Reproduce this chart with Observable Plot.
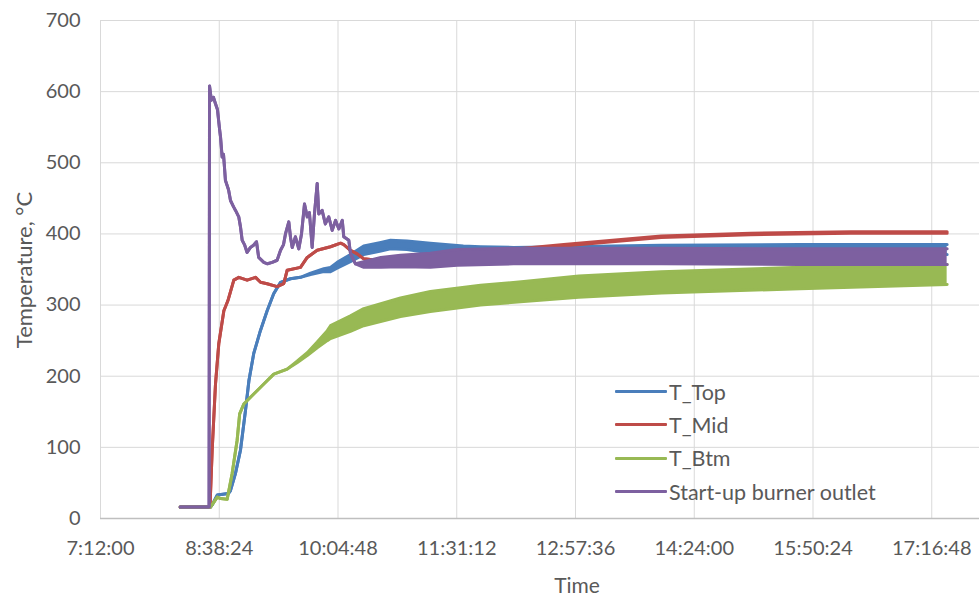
<!DOCTYPE html>
<html>
<head>
<meta charset="utf-8">
<script src="https://cdn.jsdelivr.net/npm/d3@7"></script>
<script src="https://cdn.jsdelivr.net/npm/@observablehq/plot@0.6"></script>
<style>
  html, body { margin: 0; padding: 0; background: #fff; overflow: hidden; width: 979px; height: 596px; }
  #wrap { position: relative; width: 1052px; height: 596px; font-family: Lato, "Open Sans", sans-serif; color: #595959; }
  #legend { position: absolute; left: 615px; top: 375px; font-size: 21.5px; }
  .row { display: flex; align-items: center; height: 33.3px; white-space: nowrap; }
  .sw { width: 52px; height: 3px; margin-right: 2px; border-radius: 1px; }
  #ylab { position: absolute; left: 23px; top: 270px; font-size: 22px; white-space: nowrap; transform: translate(-50%, -50%) rotate(-90deg); }
  #xlab { position: absolute; left: 577px; top: 584px; font-size: 21px; white-space: nowrap; transform: translate(-50%, -50%); }
</style>
</head>
<body>
<div id="wrap"><div id="legend"></div><div id="ylab"></div><div id="xlab"></div></div>
<script>
// ---------------- data ----------------
const seriesNames = ["T_Top", "T_Mid", "T_Btm", "Start-up burner outlet"];
const seriesColors = ["#4a7ebb", "#be4b48", "#98b954", "#7d60a0"];
const xTitle = "Time";
const yTitle = "Temperature, °C";

const xTickLabels = ["7:12:00", "8:38:24", "10:04:48", "11:31:12", "12:57:36", "14:24:00", "15:50:24", "17:16:48"];
const xDomainLabels = ["7:12:00", "18:43:12"];
const yTicks = [0, 100, 200, 300, 400, 500, 600, 700];

// T_Top: time, temperature (°C), half-width of the fast oscillation (°C)
const topTime = ["8:10:00","8:32:00","8:33:30","8:37:00","8:45:00","8:46:30","8:50:10","8:53:50","8:57:30","9:00:00","9:03:30","9:08:20","9:13:15","9:18:00","9:23:00","9:30:10","9:37:30","9:44:50","9:54:30","9:59:20","10:04:10","10:13:50","10:23:30","10:36:00","10:43:00","10:55:00","11:12:00","11:36:00","11:48:30","12:12:30","12:49:00","14:00:00","15:41:00","17:28:00"];
const topTemp = [16,16,20,33,35,39,63,96,152,194,232,264,292,316,332,337,339,344,349,350,356,366,377,382,385,384,380,375,374,373,375,377,378,378];
const topSwing = [0,0,0,0,0,0,0,0,0,0,0,0,0,0,0,0,0,1,2,3,4,5,6,6,6,6,7,8,8,8,7,7,7,7];

// T_Mid
const midTime = ["8:10:00","8:31:40","8:33:15","8:35:40","8:38:05","8:41:45","8:44:40","8:49:00","8:52:40","8:58:40","9:04:50","9:08:25","9:13:15","9:20:30","9:25:20","9:27:50","9:37:30","9:42:25","9:49:40","9:59:20","10:06:40","10:09:00","10:13:50","10:18:45","10:23:30","10:33:20","10:50:15","11:12:00","11:31:30","12:10:20","12:49:00","14:00:00","15:05:00","16:18:00","17:28:00"];
const midTemp = [16,16,96,189,246,292,306,335,339,335,339,332,330,326,330,349,353,367,377,382,387,385,377,372,365,363,366,369,372,377,384,396,400,402,402];
const midSwing = [0,0,0,0,0,0,0,0,0,0,0,0,0,0,0,0,0,0,0,0,0,0,0,0,0,0,0,0,1,1,1,1,1,1,1];

// T_Btm
const btmTime = ["8:10:00","8:32:00","8:37:00","8:39:20","8:44:10","8:47:45","8:51:25","8:53:15","8:56:15","9:03:30","9:10:50","9:18:05","9:27:50","9:35:00","9:42:25","9:49:40","9:57:00","9:59:20","10:13:50","10:23:30","10:50:15","11:12:00","11:48:30","12:20:00","13:00:00","14:00:00","15:41:00","17:28:00"];
const btmTemp = [16,16,30,28,27,63,110,147,161,175,189,203,210,220,231,244,257,262,274,283,297,305,314,319,326,332,338,343];
const btmSwing = [0,0,0,0,0,0,0,0,0,0,0,0,0,1,2,4,7,9,11,12,13,14,14,14,15,15,15,14];

// Start-up burner outlet
const burTime = ["8:10:00","8:31:00","8:31:20","8:32:40","8:34:10","8:35:40","8:37:05","8:38:35","8:39:20","8:40:30","8:41:30","8:42:55","8:45:10","8:46:35","8:48:50","8:50:15","8:52:35","8:53:50","8:55:05","8:56:45","8:58:40","9:01:05","9:03:20","9:05:30","9:07:05","9:10:50","9:13:30","9:16:55","9:20:30","9:23:00","9:25:10","9:26:35","9:29:00","9:30:15","9:31:30","9:33:50","9:36:15","9:38:15","9:40:25","9:42:25","9:44:00","9:46:00","9:47:40","9:49:40","9:50:50","9:53:15","9:55:35","9:58:05","10:00:35","10:03:00","10:05:25","10:07:55","10:09:00","10:12:40","10:13:55","10:17:30","10:23:35","10:36:00","10:50:15","11:12:00","11:31:30","12:12:30","12:49:00","14:00:00","15:41:00","17:28:00"];
const burTemp = [16,16,608,588,592,583,575,548,536,508,512,475,462,447,438,433,424,410,391,385,374,381,384,389,367,360,358,360,363,377,385,400,417,395,381,396,379,400,442,424,430,381,428,471,428,433,414,424,405,419,407,419,396,391,372,358,357,360,362,363,367,369,369,369,368,368];
const burSwing = [0,0,0,0,0,0,0,0,0,0,0,0,0,0,0,0,0,0,0,0,0,0,0,0,0,0,0,0,0,0,0,0,0,0,0,0,0,0,0,0,0,0,0,0,0,0,0,0,0,0,0,0,0,0,0,0,4,7,8,10,11,11,11,11,11,11];

// ---------------- build ----------------
function parseT(s) {
  const [h, m, sec = 0] = s.split(":").map(Number);
  return new Date(Date.UTC(2000, 0, 1, h, m, sec));
}
const seriesData = [
  [topTime, topTemp, topSwing],
  [midTime, midTemp, midSwing],
  [btmTime, btmTemp, btmSwing],
  [burTime, burTemp, burSwing]
];
const rows = [];
seriesData.forEach(([ts, vs, ss], k) => {
  ts.forEach((t, i) => rows.push({
    series: seriesNames[k], time: parseT(t), temp: vs[i],
    lo: vs[i] - ss[i], hi: vs[i] + ss[i]
  }));
});
const xTicks = xTickLabels.map(parseT);
const fmt = d3.utcFormat("%-H:%M:%S");
const color = {domain: seriesNames, range: seriesColors};

const marks = [
  Plot.gridX(xTicks, {stroke: "#d9d9d9", strokeOpacity: 1, strokeWidth: 1}),
  Plot.gridY(yTicks, {stroke: "#d9d9d9", strokeOpacity: 1, strokeWidth: 1}),
  Plot.ruleY([0], {stroke: "#bfbfbf", strokeWidth: 1.3}),
  Plot.axisX(xTicks, {tickSize: 0, tickPadding: 22, tickFormat: fmt, label: null, fill: "#595959"}),
  Plot.axisY(yTicks, {tickSize: 0, tickPadding: 20, label: null, fill: "#595959"})
];
seriesNames.forEach(name => {
  const d = rows.filter(r => r.series === name);
  marks.push(Plot.areaY(d, {x: "time", y1: "lo", y2: "hi", fill: "series", fillOpacity: 1}));
  marks.push(Plot.lineY(d, {x: "time", y: "lo", stroke: "series", strokeWidth: 3, strokeLinejoin: "round", strokeLinecap: "round"}));
  marks.push(Plot.lineY(d, {x: "time", y: "hi", stroke: "series", strokeWidth: 3, strokeLinejoin: "round", strokeLinecap: "round"}));
});

const chart = Plot.plot({
  width: 1052,
  height: 596,
  marginLeft: 100,
  marginRight: 2,
  marginTop: 20,
  marginBottom: 78,
  style: {fontFamily: "Lato, 'Open Sans', sans-serif", fontSize: "20px", color: "#595959", background: "white"},
  x: {type: "utc", domain: xDomainLabels.map(parseT)},
  y: {domain: [0, 700]},
  color,
  marks
});
document.getElementById("wrap").prepend(chart);

document.getElementById("xlab").textContent = xTitle;
document.getElementById("ylab").textContent = yTitle;

// legend (HTML overlay inside the plot area, like the original)
const legend = document.getElementById("legend");
seriesNames.forEach((name, i) => {
  const row = document.createElement("div");
  row.className = "row";
  const sw = document.createElement("div");
  sw.className = "sw";
  sw.style.background = seriesColors[i];
  const tx = document.createElement("span");
  tx.textContent = name;
  row.append(sw, tx);
  legend.append(row);
});
</script>
</body>
</html>
